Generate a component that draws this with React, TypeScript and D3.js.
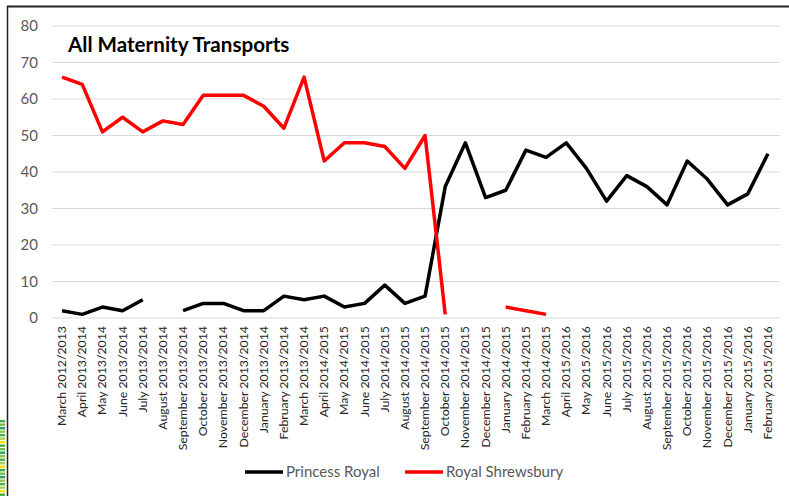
import React from "react";
import * as d3 from "d3";

const categories = [
  "March 2012/2013", "April 2013/2014", "May 2013/2014", "June 2013/2014", "July 2013/2014",
  "August 2013/2014", "September 2013/2014", "October 2013/2014", "November 2013/2014",
  "December 2013/2014", "January 2013/2014", "February 2013/2014", "March 2013/2014",
  "April 2014/2015", "May 2014/2015", "June 2014/2015", "July 2014/2015", "August 2014/2015",
  "September 2014/2015", "October 2014/2015", "November 2014/2015", "December 2014/2015",
  "January 2014/2015", "February 2014/2015", "March 2014/2015", "April 2015/2016",
  "May 2015/2016", "June 2015/2016", "July 2015/2016", "August 2015/2016",
  "September 2015/2016", "October 2015/2016", "November 2015/2016", "December 2015/2016",
  "January 2015/2016", "February 2015/2016",
];

const princessRoyal: (number | null)[] = [
  2, 1, 3, 2, 5, null, 2, 4, 4, 2, 2, 6, 5, 6, 3, 4, 9, 4, 6, 36, 48, 33, 35, 46, 44, 48,
  41, 32, 39, 36, 31, 43, 38, 31, 34, 45,
];

const royalShrewsbury: (number | null)[] = [
  66, 64, 51, 55, 51, 54, 53, 61, 61, 61, 58, 52, 66, 43, 48, 48, 47, 41, 50, 1, null, null,
  3, 2, 1, null, null, null, null, null, null, null, null, null, null, null,
];

const yTicks = [0, 10, 20, 30, 40, 50, 60, 70, 80];

const seriesNames = ["Princess Royal", "Royal Shrewsbury"];
const seriesColors = ["#000000", "#ff0000"];

const FONT = "Lato, 'Open Sans', sans-serif";

export default function App() {
  const W = 789;
  const H = 496;
  const x = d3.scaleBand<string>().domain(categories).range([52, 778]);
  const y = d3.scaleLinear().domain([0, 80]).range([318, 26]);
  const cx = (c: string) => (x(c) as number) + x.bandwidth() / 2;

  const line = d3
    .line<number | null>()
    .defined((d) => d !== null)
    .x((_, i) => cx(categories[i]))
    .y((d) => y(d as number));

  const allSeries = [princessRoyal, royalShrewsbury];

  const greens = ["#3fae49", "#6cc04a", "#2e9e5b", "#8cc63f", "#4cb050", "#a8d14f", "#f2e600"];

  return (
    <svg
      width={W}
      height={H}
      style={{ position: "absolute", left: 0, top: 0, background: "#fff" }}
      fontFamily={FONT}
    >
      <rect x={0} y={0} width={W} height={H} fill="#fff" />
      {/* decoration */}
      {d3.range(22).map((i) => (
        <rect
          key={i}
          x={0}
          y={420 + i * 3.5}
          width={5}
          height={2.4}
          fill={greens[i % greens.length]}
        />
      ))}
      {/* frame */}
      <line x1={7} x2={W} y1={6.5} y2={6.5} stroke="#222" strokeWidth={2} />
      <line x1={7.5} x2={7.5} y1={6} y2={H} stroke="#222" strokeWidth={1.5} />

      {/* gridlines */}
      {yTicks.map((t) => (
        <line key={t} x1={52} x2={780} y1={y(t)} y2={y(t)} stroke="#d9d9d9" strokeWidth={1} />
      ))}
      {yTicks.map((t) => (
        <text
          key={"l" + t}
          x={38}
          y={y(t)}
          dy="0.35em"
          textAnchor="end"
          fontSize={15}
          fill="#595959"
        >
          {t}
        </text>
      ))}

      {/* x labels */}
      {categories.map((c) => (
        <text
          key={c}
          transform={`translate(${cx(c) + 4},326) rotate(-90)`}
          textAnchor="end"
          fontSize={12.3}
          fill="#262626"
        >
          {c}
        </text>
      ))}

      {/* lines */}
      {allSeries.map((s, i) => (
        <path
          key={i}
          d={line(s) || ""}
          fill="none"
          stroke={seriesColors[i]}
          strokeWidth={3.5}
          strokeLinejoin="round"
        />
      ))}

      {/* title */}
      <text x={68} y={52} fontSize={20.6} fontWeight="bold" fill="#000">
        All Maternity Transports
      </text>

      {/* legend */}
      {seriesNames.map((n, i) => {
        const lx = i === 0 ? 245 : 405;
        return (
          <g key={n}>
            <line x1={lx} x2={lx + 38} y1={472} y2={472} stroke={seriesColors[i]} strokeWidth={3.5} />
            <text x={lx + 41} y={472} dy="0.35em" fontSize={15} fill="#595959">
              {n}
            </text>
          </g>
        );
      })}
    </svg>
  );
}
